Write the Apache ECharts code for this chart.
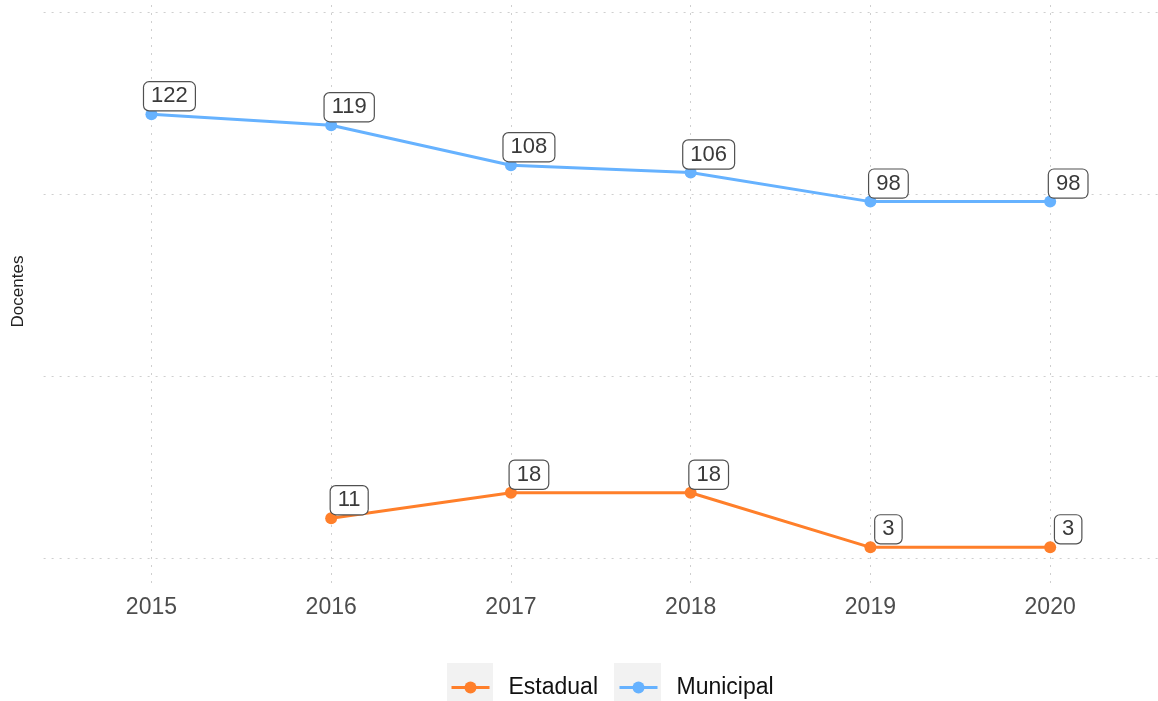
<!DOCTYPE html>
<html>
<head>
<meta charset="utf-8">
<script src="https://cdn.jsdelivr.net/npm/echarts@6/dist/echarts.min.js"></script>
<style>
  html, body { margin: 0; padding: 0; background: #fff; }
  #chart { width: 1158px; height: 701px; }
</style>
</head>
<body>
<div id="chart"></div>
<script>
// Teachers per year by network
const years = [2015, 2016, 2017, 2018, 2019, 2020];
const estadual = [null, 11, 18, 18, 3, 3];
const municipal = [122, 119, 108, 106, 98, 98];
const gridValues = [0, 50, 100, 150];

// panel extent on the year axis (discrete padding of 0.6 on each side)
const panelMin = 2014.4;
const panelMax = 2020.6;

const FONT = 'Liberation Sans, Arial, Helvetica, sans-serif';
const gridStyle = { color: '#cfcfcf', width: 1, type: [2, 6] };

function pairs(vals) {
  return years.map((y, i) => [y, vals[i]]).filter(p => p[1] !== null);
}

const labelStyle = {
  show: true,
  position: 'inside',
  offset: [18, -18],
  fontFamily: FONT,
  fontSize: 22,
  lineHeight: 22,
  color: '#3a3a3a',
  backgroundColor: '#fff',
  borderColor: '#505050',
  borderWidth: 1.2,
  borderRadius: 5,
  padding: [3, 7, 3, 7]
};

const vGuides = years.map(y => ({ xAxis: y }));
const hGuides = gridValues.map(v => ({ yAxis: v }));

const chart = echarts.init(document.getElementById('chart'));
chart.setOption({
  animation: false,
  backgroundColor: '#fff',
  textStyle: { fontFamily: FONT },
  grid: { left: 43.6, top: 0, width: 1120, height: 583, containLabel: false },
  xAxis: {
    type: 'value',
    min: panelMin,
    max: panelMax,
    splitNumber: 6,
    axisLine: { show: false },
    axisTick: { show: false },
    splitLine: { show: false },
    axisLabel: {
      showMinLabel: false,
      showMaxLabel: false,
      margin: 13,
      fontSize: 23,
      color: '#4d4d4d',
      fontFamily: FONT,
      formatter: v => (years.indexOf(Math.round(v * 10) / 10) >= 0 ? String(Math.round(v)) : '')
    }
  },
  yAxis: {
    type: 'value',
    min: -6.8,
    max: 153.4,
    name: 'Docentes',
    nameLocation: 'middle',
    nameGap: 17,
    nameTextStyle: { fontSize: 17, color: '#222', fontFamily: FONT },
    axisLine: { show: false },
    axisTick: { show: false },
    axisLabel: { show: false },
    splitLine: { show: false }
  },
  legend: {
    data: ['Estadual', 'Municipal'],
    left: 445,
    top: 671,
    itemWidth: 38,
    itemHeight: 15,
    itemGap: 20,
    lineStyle: { width: 3 },
    textStyle: { fontSize: 23, color: '#111', fontFamily: FONT, padding: [0, 0, 0, 14] }
  },
  graphic: [
    { type: 'rect', left: 447, top: 663, shape: { width: 46, height: 38 }, style: { fill: '#f2f2f2' }, z: -1 },
    { type: 'rect', left: 614, top: 663, shape: { width: 47, height: 38 }, style: { fill: '#f2f2f2' }, z: -1 }
  ],
  series: [
    {
      name: 'Estadual',
      type: 'line',
      data: pairs(estadual),
      color: '#FF7F2A',
      symbol: 'circle',
      symbolSize: 12,
      lineStyle: { width: 3 },
      label: labelStyle,
      z: 3
    },
    {
      name: 'Municipal',
      type: 'line',
      data: pairs(municipal),
      color: '#66B2FF',
      symbol: 'circle',
      symbolSize: 12,
      lineStyle: { width: 3 },
      label: labelStyle,
      z: 3,
      markLine: {
        silent: true,
        symbol: 'none',
        label: { show: false },
        lineStyle: gridStyle,
        z: 1,
        data: hGuides.concat(vGuides)
      }
    }
  ]
});
</script>
</body>
</html>
